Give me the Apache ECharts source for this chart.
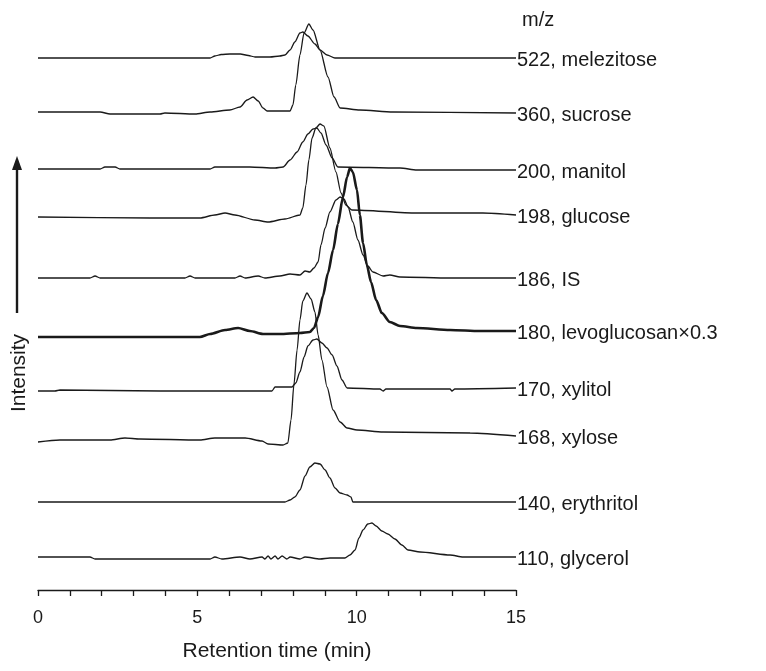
<!DOCTYPE html>
<html>
<head>
<meta charset="utf-8">
<script src="https://cdn.jsdelivr.net/npm/echarts@6/dist/echarts.min.js"></script>
<style>
  html, body { margin: 0; padding: 0; background: #ffffff; }
  #chart { width: 766px; height: 671px; }
</style>
</head>
<body>
<div id="chart"></div>
<script>
// ---- Data (retention time in min, relative intensity above each trace's baseline) ----
const traceNames = ['522, melezitose', '360, sucrose', '200, manitol', '198, glucose', '186, IS',
  '180, levoglucosan×0.3', '170, xylitol', '168, xylose', '140, erythritol', '110, glycerol'];
const traceOffsets = [532, 478, 421, 373, 312, 253, 199, 149, 88, 33];
const xTickLabels = [0, 5, 10, 15];

const melezitose = [[0,0],[5.40,0],[5.55,2],[5.75,3.5],[6.02,4],[6.35,4],[6.60,2.5],[6.81,1],[7.28,1],[7.59,2],[7.75,3],[7.91,8],[8.06,16],[8.22,25],[8.31,26],[8.47,22],[8.69,14],[8.85,8],[9.07,3],[9.32,0],[15,0]];
const sucrose = [[0,0],[1.95,0],[2.26,-2],[3.83,-2],[3.98,-1],[4.93,-2],[5.40,0],[6.02,2],[6.34,5],[6.56,12],[6.75,15],[6.91,11],[7.06,4],[7.19,1],[7.91,1],[8.00,7],[8.09,27],[8.22,57],[8.35,79],[8.50,88],[8.63,82],[8.85,62],[9.10,35],[9.29,15],[9.48,4],[10.10,2],[11.14,0],[15,-1]];
const manitol = [[0,0],[1.95,0],[2.10,2],[2.42,2],[2.57,0],[5.40,0],[5.55,2],[6.65,2],[7.44,1],[7.69,2],[7.91,9],[8.13,17],[8.31,27],[8.47,35],[8.63,40],[8.75,41],[8.88,36],[9.04,24],[9.23,11],[9.41,2],[11.36,1],[11.89,-1],[15,-1]];
const glucose = [[0,0],[3.51,-1],[5.08,-1],[5.55,2],[5.87,4],[6.18,2],[6.81,-3],[7.22,-5],[7.75,-2],[8.22,2],[8.31,9],[8.41,32],[8.50,57],[8.60,79],[8.72,89],[8.85,93],[8.97,91],[9.16,69],[9.35,45],[9.51,24],[9.66,12],[9.85,7],[11.89,4],[13.96,4],[15,2]];
const internalStd = [[0,0],[1.63,0],[1.79,2],[1.95,0],[4.61,0],[4.77,2],[4.93,0],[6.18,0],[6.34,2],[6.50,0],[6.91,2],[7.12,0],[7.59,2],[7.91,4],[8.22,3],[8.38,7],[8.53,6],[8.66,10],[8.79,16],[8.88,33],[9.01,50],[9.16,66],[9.35,78],[9.48,81],[9.60,79],[9.73,71],[9.88,56],[10.04,38],[10.20,23],[10.35,12],[10.51,6],[10.83,2],[11.04,3],[11.36,1],[12.93,0],[15,0]];
const levoglucosan = [[0,0],[5.08,0],[5.40,3],[5.87,7],[6.28,9],[6.65,6],[7.06,3],[7.59,3],[8.22,4],[8.53,5],[8.66,9],[8.79,20],[8.94,41],[9.10,64],[9.26,87],[9.41,113],[9.57,140],[9.70,160],[9.79,169],[9.88,165],[10.01,147],[10.10,122],[10.20,94],[10.32,72],[10.45,55],[10.61,37],[10.79,24],[11.04,15],[11.36,11],[11.89,9],[12.93,7],[13.87,6],[15,6]];
const xylitol = [[0,0],[0.53,0],[0.69,1],[3.83,0],[7.34,0],[7.44,4],[7.97,4],[8.09,8],[8.22,19],[8.35,34],[8.47,45],[8.63,51],[8.75,52],[8.91,48],[9.07,43],[9.23,36],[9.38,25],[9.54,11],[9.70,3],[10.73,2],[10.83,0],[10.92,2],[12.93,2],[12.99,0],[13.08,2],[15,3]];
const xylose = [[0,-1],[0.69,1],[2.26,1],[2.73,3],[3.20,2],[5.08,1],[5.55,3],[6.50,3],[7.03,0],[7.22,-3],[7.69,-4],[7.84,-2],[7.94,21],[8.03,56],[8.13,91],[8.22,121],[8.31,140],[8.44,148],[8.57,142],[8.69,129],[8.79,106],[8.91,81],[9.07,54],[9.26,31],[9.48,19],[9.70,13],[10.01,11],[10.83,9],[13.56,8],[15,5]];
const erythritol = [[0,0],[7.75,0],[7.91,2],[8.06,5],[8.22,12],[8.38,26],[8.53,35],[8.69,39],[8.85,38],[9.01,32],[9.16,24],[9.32,14],[9.48,9],[9.70,7],[9.82,5],[9.88,0],[15,0]];
const glycerol = [[0,0],[1.63,0],[1.79,-2],[5.40,-2],[5.55,0],[5.77,-2],[6.34,0],[6.65,-2],[7.03,0],[7.12,-2],[7.22,1],[7.31,-2],[7.44,1],[7.53,-2],[7.66,1],[7.81,-2],[7.91,0],[8.22,-2],[8.38,0],[8.85,-2],[9.16,-1],[9.63,-1],[9.79,2],[9.95,7],[10.07,19],[10.20,27],[10.35,33],[10.48,34],[10.61,31],[10.79,26],[10.98,23],[11.20,18],[11.42,12],[11.61,7],[11.99,5],[12.93,2],[13.34,0],[15,0]];

const traces = [melezitose, sucrose, manitol, glucose, internalStd, levoglucosan, xylitol, xylose, erythritol, glycerol];

const FONT = '"Liberation Sans", Arial, sans-serif';
const INK = '#1a1a1a';

const series = traces.map((tr, i) => ({
  name: traceNames[i],
  type: 'line',
  data: tr.map(p => [p[0], p[1] + traceOffsets[i]]),
  showSymbol: false,
  smooth: 0.25,
  smoothMonotone: 'x',
  silent: true,
  z: i === 5 ? 3 : 2,
  lineStyle: { color: INK, width: i === 5 ? 2.6 : 1.3 },
  endLabel: {
    show: true,
    formatter: traceNames[i],
    distance: 1,
    color: INK,
    fontFamily: FONT,
    fontSize: 20,
    offset: [0, 2]
  }
}));

const chart = echarts.init(document.getElementById('chart'), null, { renderer: 'canvas' });
chart.setOption({
  animation: false,
  backgroundColor: '#ffffff',
  grid: { left: 38, right: 250, top: 10, bottom: 81, containLabel: false },
  title: {
    text: 'm/z', left: 517, top: 5,
    textStyle: { fontFamily: FONT, fontSize: 20, fontWeight: 'normal', color: INK }
  },
  xAxis: {
    type: 'value', min: 0, max: 15, interval: 1,
    name: 'Retention time (min)', nameLocation: 'middle', nameGap: 51,
    nameTextStyle: { fontFamily: FONT, fontSize: 21, color: INK },
    axisLine: { show: true, onZero: false, lineStyle: { color: INK, width: 1.3 } },
    axisTick: { show: true, inside: false, length: 6, lineStyle: { color: INK, width: 1.3 } },
    splitLine: { show: false },
    axisLabel: {
      margin: 19, fontFamily: FONT, fontSize: 18, color: INK,
      formatter: v => (xTickLabels.indexOf(v) >= 0 ? String(v) : '')
    }
  },
  yAxis: {
    type: 'value', min: 0, max: 580, show: false
  },
  graphic: [
    { type: 'line', shape: { x1: 17, y1: 313, x2: 17, y2: 168 }, style: { stroke: INK, lineWidth: 2.4 } },
    { type: 'polygon', shape: { points: [[17, 156], [12, 170], [22, 170]] }, style: { fill: INK } },
    { type: 'text', x: 19, y: 373, rotation: Math.PI / 2,
      style: { text: 'Intensity', font: '21px ' + FONT, fill: INK, textAlign: 'center', textVerticalAlign: 'middle' } }
  ],
  series: series
});
</script>
</body>
</html>
